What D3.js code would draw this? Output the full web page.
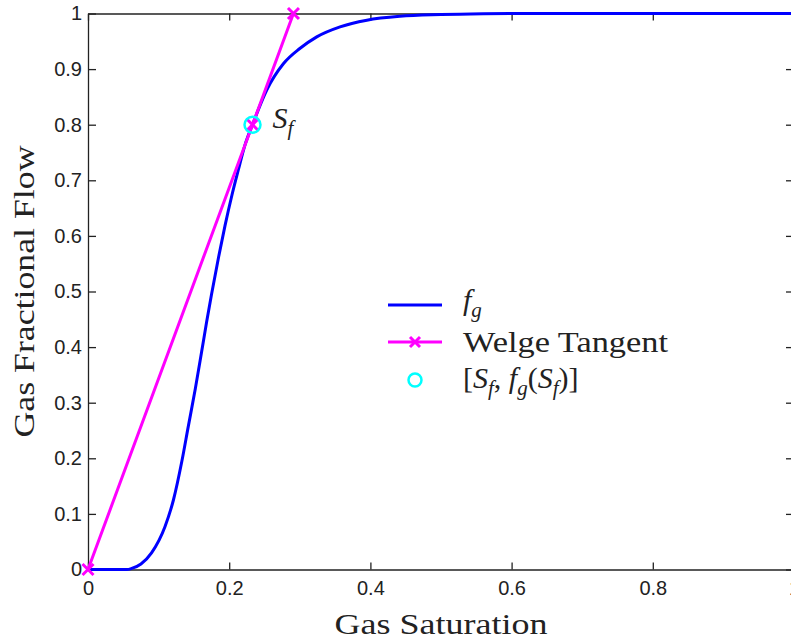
<!DOCTYPE html>
<html>
<head>
<meta charset="utf-8">
<script src="https://cdn.jsdelivr.net/npm/d3@7"></script>
<style>
  body { margin: 0; background: #fff; }
  svg { display: block; }
  .tick text { font-family: "Liberation Sans", Arial, sans-serif; font-size: 20px; fill: #222; }
  .serif { font-family: "Liberation Serif", "Times New Roman", serif; fill: #222; }
</style>
</head>
<body>
<div id="chart"></div>
<script>
// fractional flow curve
const satValues = [0, 0.03, 0.055, 0.062, 0.075, 0.090, 0.109, 0.121, 0.133, 0.142, 0.152, 0.161, 0.168,
  0.175, 0.185, 0.194, 0.204, 0.213, 0.222, 0.233, 0.253, 0.277, 0.300, 0.324, 0.357, 0.395, 0.442,
  0.50, 0.56, 0.62, 0.8, 1.0];
const flowValues = [0, 0, 0, 0.002, 0.010, 0.030, 0.077, 0.125, 0.195, 0.257, 0.325, 0.392, 0.445,
  0.495, 0.562, 0.618, 0.674, 0.719, 0.762, 0.800, 0.862, 0.910, 0.937, 0.958, 0.976, 0.988, 0.995,
  0.998, 0.9995, 1.0, 1.0, 1.0];

// Welge tangent line
const tangentSat = [0, 0.233, 0.291];
const tangentFlow = [0, 0.8, 1.0];

// shock front point
const frontSat = 0.233;
const frontFlow = 0.8;

const xTicks = [0, 0.2, 0.4, 0.6, 0.8, 1];
const yTicks = [0, 0.1, 0.2, 0.3, 0.4, 0.5, 0.6, 0.7, 0.8, 0.9, 1];

const width = 791, height = 641;
const mLeft = 88, mRight = 794, mTop = 13.5, mBottom = 569.5;

const svg = d3.select("#chart").append("svg")
  .attr("width", width)
  .attr("height", height);

const x = d3.scaleLinear().domain([0, 1]).range([mLeft, mRight]);
const y = d3.scaleLinear().domain([0, 1]).range([mBottom, mTop]);

const fmt = d => String(d);

// axes (box with inward ticks)
const axisColor = "#222";
function styleAxis(g) {
  g.selectAll("path").attr("stroke", axisColor).attr("stroke-width", 1.3);
  g.selectAll("line").attr("stroke", axisColor).attr("stroke-width", 1.3);
}

svg.append("g")
  .attr("transform", `translate(0,${mBottom})`)
  .call(d3.axisBottom(x).tickValues(xTicks).tickFormat(fmt).tickSizeInner(-7).tickSizeOuter(0).tickPadding(11))
  .call(styleAxis);

svg.append("g")
  .attr("transform", `translate(0,${mTop})`)
  .call(d3.axisTop(x).tickValues(xTicks).tickFormat("").tickSizeInner(-7).tickSizeOuter(0))
  .call(styleAxis);

svg.append("g")
  .attr("transform", `translate(${mLeft},0)`)
  .call(d3.axisLeft(y).tickValues(yTicks).tickFormat(fmt).tickSizeInner(-8).tickSizeOuter(0).tickPadding(6))
  .call(styleAxis);

svg.append("g")
  .attr("transform", `translate(${mRight},0)`)
  .call(d3.axisRight(y).tickValues(yTicks).tickFormat("").tickSizeInner(-8).tickSizeOuter(0))
  .call(styleAxis);

svg.selectAll(".tick text").attr("fill", "#222");

// fg curve
const flowData = satValues.map((s, i) => [s, flowValues[i]]);
const line = d3.line().x(d => x(d[0])).y(d => y(d[1])).curve(d3.curveMonotoneX);

svg.append("path")
  .datum(flowData)
  .attr("fill", "none")
  .attr("stroke", "#0000ff")
  .attr("stroke-width", 3)
  .attr("d", line);

// tangent
const tanData = tangentSat.map((s, i) => [s, tangentFlow[i]]);
svg.append("path")
  .datum(tanData)
  .attr("fill", "none")
  .attr("stroke", "#ff00ff")
  .attr("stroke-width", 3)
  .attr("d", d3.line().x(d => x(d[0])).y(d => y(d[1])));

function crossMark(sel, cx, cy, r) {
  sel.append("path")
    .attr("d", `M${cx - r},${cy - r}L${cx + r},${cy + r}M${cx - r},${cy + r}L${cx + r},${cy - r}`)
    .attr("stroke", "#ff00ff")
    .attr("stroke-width", 3)
    .attr("fill", "none");
}
tanData.forEach(d => crossMark(svg, x(d[0]), y(d[1]), 5.5));

// front point circle
svg.append("circle")
  .attr("cx", x(frontSat))
  .attr("cy", y(frontFlow))
  .attr("r", 8)
  .attr("fill", "none")
  .attr("stroke", "#00ffff")
  .attr("stroke-width", 2.5);

// S_f label
const sf = svg.append("text").attr("class", "serif")
  .attr("x", x(frontSat) + 20).attr("y", y(frontFlow) + 3)
  .attr("font-size", 30).attr("font-style", "italic");
sf.append("tspan").text("S");
sf.append("tspan").attr("font-size", 21).attr("dy", 7).text("f");

// axis titles
svg.append("text").attr("class", "serif")
  .attr("x", (mLeft + mRight) / 2).attr("y", 634)
  .attr("text-anchor", "middle")
  .attr("font-size", 30)
  .attr("textLength", 213).attr("lengthAdjust", "spacingAndGlyphs")
  .text("Gas Saturation");

svg.append("text").attr("class", "serif")
  .attr("transform", `translate(34,${(mTop + mBottom) / 2}) rotate(-90)`)
  .attr("text-anchor", "middle")
  .attr("font-size", 30)
  .attr("textLength", 292).attr("lengthAdjust", "spacingAndGlyphs")
  .text("Gas Fractional Flow");

// legend
const lg = svg.append("g");
lg.append("line").attr("x1", 388).attr("x2", 442).attr("y1", 305).attr("y2", 305)
  .attr("stroke", "#0000ff").attr("stroke-width", 3);
const t1 = lg.append("text").attr("class", "serif").attr("x", 463).attr("y", 310)
  .attr("font-size", 30).attr("font-style", "italic");
t1.append("tspan").text("f");
t1.append("tspan").attr("font-size", 21).attr("dy", 7).text("g");

lg.append("line").attr("x1", 388).attr("x2", 442).attr("y1", 342).attr("y2", 342)
  .attr("stroke", "#ff00ff").attr("stroke-width", 3);
crossMark(lg, 415, 342, 5);
lg.append("text").attr("class", "serif").attr("x", 463).attr("y", 352)
  .attr("font-size", 30)
  .attr("textLength", 205).attr("lengthAdjust", "spacingAndGlyphs")
  .text("Welge Tangent");

lg.append("circle").attr("cx", 415).attr("cy", 380).attr("r", 6.5)
  .attr("fill", "none").attr("stroke", "#00ffff").attr("stroke-width", 2.5);
const t3 = lg.append("text").attr("class", "serif").attr("x", 463).attr("y", 388)
  .attr("font-size", 30);
t3.append("tspan").text("[");
t3.append("tspan").attr("font-style", "italic").text("S");
t3.append("tspan").attr("font-style", "italic").attr("font-size", 21).attr("dy", 7).text("f");
t3.append("tspan").attr("dy", -7).text(", ");
t3.append("tspan").attr("font-style", "italic").text("f");
t3.append("tspan").attr("font-style", "italic").attr("font-size", 21).attr("dy", 7).text("g");
t3.append("tspan").attr("dy", -7).text("(");
t3.append("tspan").attr("font-style", "italic").text("S");
t3.append("tspan").attr("font-style", "italic").attr("font-size", 21).attr("dy", 7).text("f");
t3.append("tspan").attr("dy", -7).text(")]");
</script>
</body>
</html>
